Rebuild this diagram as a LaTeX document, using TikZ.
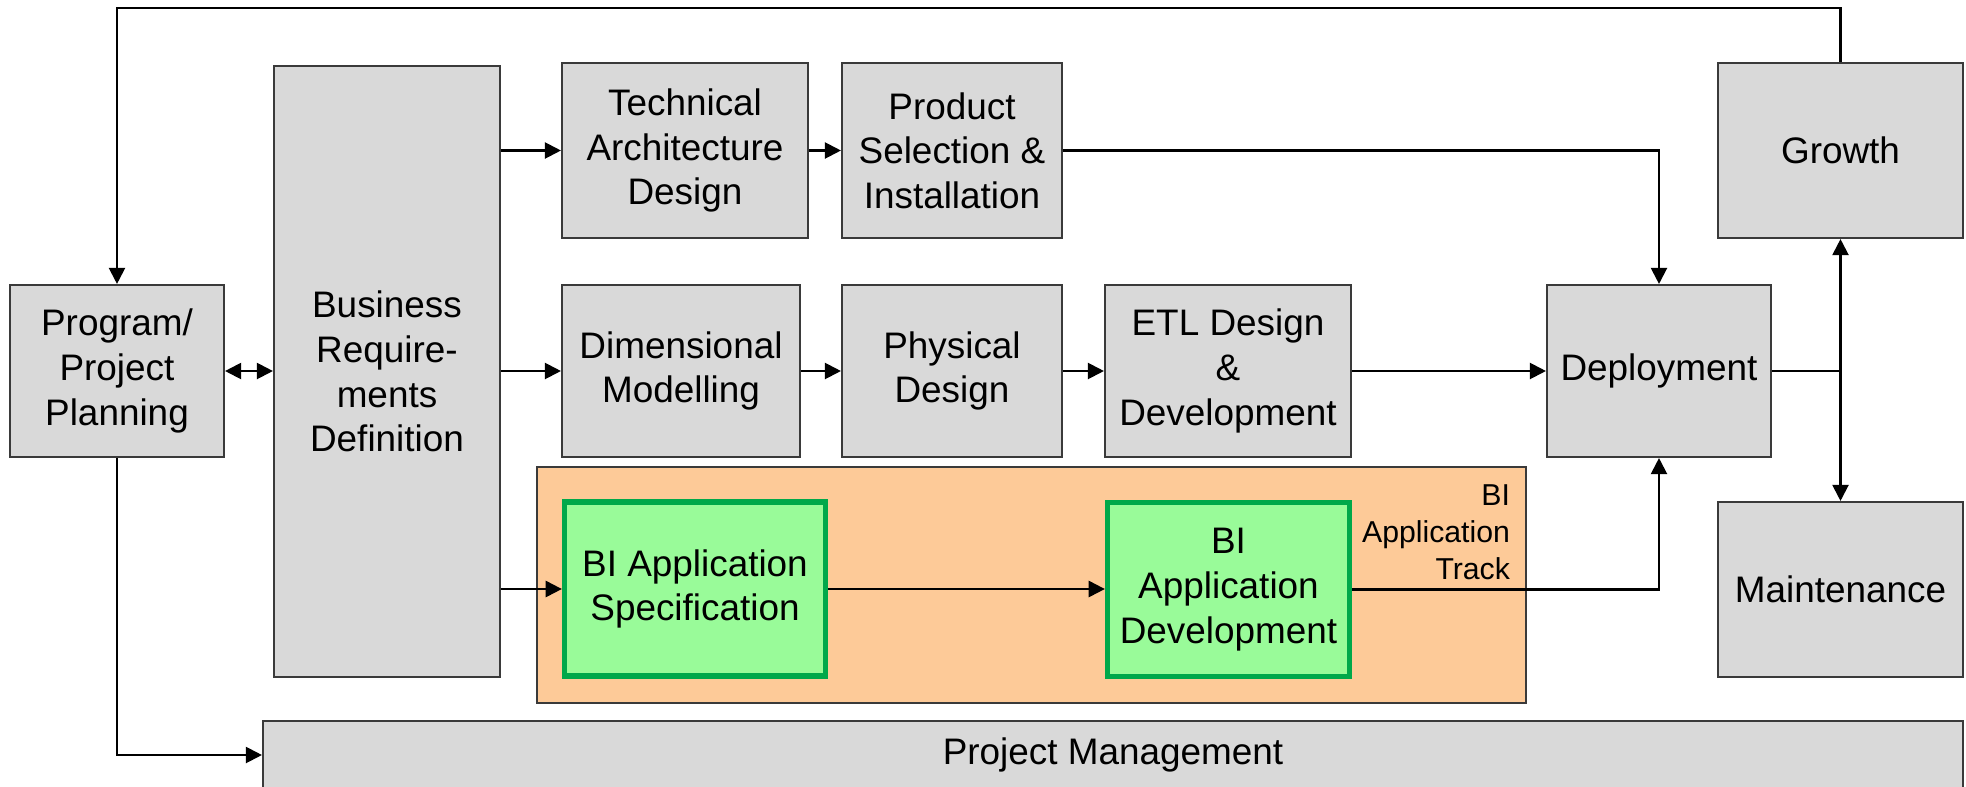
\documentclass[tikz,border=0pt]{standalone}
\usepackage{fontspec}
\setmainfont{Liberation Sans}
\usetikzlibrary{arrows.meta,positioning}
\definecolor{boxgray}{HTML}{D9D9D9}
\definecolor{edgegray}{HTML}{3A3A3A}
\definecolor{trackorange}{HTML}{FDCA98}
\definecolor{appgreen}{HTML}{99FB99}
\definecolor{appedge}{HTML}{00A84A}
\tikzset{>={Triangle[length=4.6pt,width=4.6pt]},
box/.style={draw=edgegray,fill=boxgray,line width=0.6pt,inner sep=0pt,
align=center,font=\fontsize{10.5}{12.7}\selectfont},
appbox/.style={box,draw=appedge,fill=appgreen,line width=1.5pt},
trackbox/.style={draw=edgegray,fill=trackorange,line width=0.6pt,inner sep=0pt},
tracklabel/.style={inner sep=0pt,align=right,font=\fontsize{8.6}{10.5}\selectfont}}

\begin{document}
\begin{tikzpicture}[x=0.1mm,y=-0.1mm,line width=0.6pt]
  \useasboundingbox (0,0) rectangle (1966,787);
  \node [box, minimum width=2.14cm, minimum height=1.72cm] (plan) at (117,371)
    {Program/\\Project\\Planning};
  \node [box, minimum width=2.26cm, minimum height=6.11cm] (busreq) at (387,371.5)
    {Business\\Require-\\ments\\Definition};
  \node [box, minimum width=2.46cm, minimum height=1.75cm] (tech) at (685,150.5)
    {Technical\\Architecture\\Design};
  \node [box, minimum width=2.20cm, minimum height=1.75cm] (product) at (952,150.5)
    {Product\\Selection \&\\Installation};
  \node [box, minimum width=2.45cm, minimum height=1.75cm] (growth) at (1840.5,150.5)
    {Growth};
  \node [box, minimum width=2.38cm, minimum height=1.72cm] (dimmod) at (681,371)
    {Dimensional\\Modelling};
  \node [box, minimum width=2.20cm, minimum height=1.72cm] (physical) at (952,371)
    {Physical\\Design};
  \node [box, minimum width=2.46cm, minimum height=1.72cm] (etl) at (1228,371)
    {ETL Design\\\&\\Development};
  \node [box, minimum width=2.24cm, minimum height=1.72cm] (deploy) at (1659,371)
    {Deployment};
  \node [trackbox, minimum width=9.89cm, minimum height=2.36cm] (bitrack) at (1031.5,585) {};
  \node [tracklabel, anchor=north east] (tracktext) at (1511,484)
    {BI\\Application\\Track};
  \node [appbox, minimum width=2.61cm, minimum height=1.74cm] (appspec) at (695,589)
    {BI Application\\Specification};
  \node [appbox, minimum width=2.42cm, minimum height=1.74cm] (appdev) at (1228.5,589.5)
    {BI\\Application\\Development};
  \node [box, minimum width=2.45cm, minimum height=1.75cm] (maint) at (1840.5,589.5)
    {Maintenance};
  \node [box, minimum width=17.00cm, minimum height=0.68cm] (projmgmt) at (1113,755)
    {Project Management};

  \path
    (plan.east) edge [<->] (plan.east -| busreq.west)
    (busreq.east |- tech.west) edge [->] (tech.west)
    (busreq.east |- dimmod.west) edge [->] (dimmod.west)
    (busreq.east |- appspec.west) edge [->] (appspec.west)
    (tech) edge [->] (product)
    (dimmod) edge [->] (physical)
    (physical) edge [->] (etl)
    (etl) edge [->] (deploy)
    (appspec.east) edge [->] (appspec.east -| appdev.west);
  \draw [->] (product.east) -| (deploy.north);
  \draw [->] (appdev.east) -| (deploy.south);
  \coordinate (split) at (growth.south |- deploy.east);
  \draw (deploy.east) -- (split);
  \draw [->] (split) -- (growth.south);
  \draw [->] (split) -- (maint.north);
  \draw [->] (growth.north) -- ++(0,-54) -| (plan.north);
  \draw [->] (plan.south) |- (projmgmt.west);
\end{tikzpicture}
\end{document}
